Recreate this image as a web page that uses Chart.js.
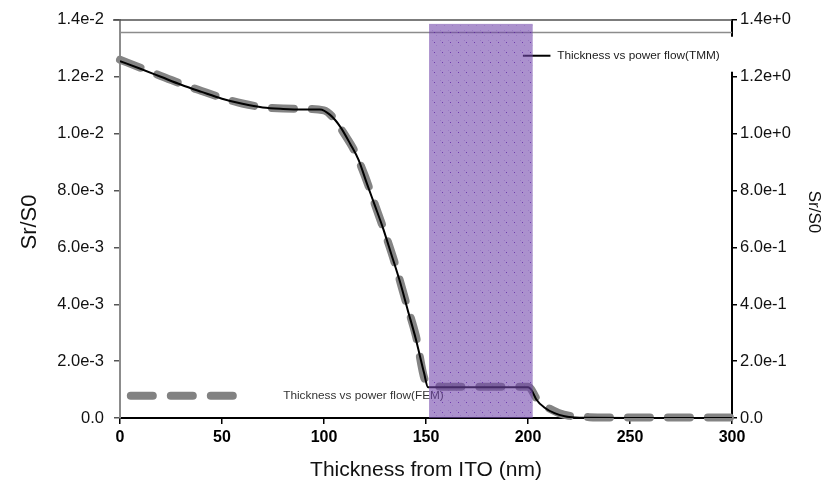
<!DOCTYPE html>
<html><head><meta charset="utf-8">
<script src="https://cdn.jsdelivr.net/npm/chart.js@4.4.1/dist/chart.umd.min.js"></script>
<style>html,body{margin:0;padding:0;background:#fff}canvas{display:block}</style>
</head><body>
<canvas id="c" width="832" height="485"></canvas>
<script>
// ---- data ----
const tmmThickness = [0,10,20,30,40,50,60,70,80,90,98,103,108,113,117,121,125,129,133,137,141,145,149,151,160,170,180,190,200,202,204,208,213,218,223,230,250,275,300];
const tmmPower     = [0.01255,0.01228,0.01200,0.01172,0.01147,0.01123,0.01105,0.01092,0.01087,0.01085,0.01085,0.01066,0.01024,0.00962,0.00907,0.00825,0.00746,0.00666,0.00576,0.00485,0.00381,0.00278,0.00160,0.00108,0.00108,0.00108,0.00108,0.00108,0.00108,0.00095,0.00066,0.00037,0.00017,0.00006,0.00002,0.00001,0,0,0];
const femThickness = [0,10,20,30,40,50,60,70,80,90,100,105,110,115,120,125,130,135,140,145,150,160,170,180,190,200,205,210,215,220,230,240,250,260,270,280,290,300];
const femPower     = [0.0126,0.01232,0.01203,0.01175,0.01150,0.01126,0.01106,0.01093,0.01088,0.01087,0.01082,0.01052,0.00998,0.00938,0.00852,0.00750,0.00648,0.00538,0.00412,0.00290,0.00128,0.00110,0.00110,0.00110,0.00110,0.00110,0.00060,0.00035,0.00018,0.00008,0.00003,0.00002,0.00002,0.00002,0.00002,0.00002,0.00002,0.00002];
const xTicks     = [0,50,100,150,200,250,300];
const leftTicks  = [0,0.002,0.004,0.006,0.008,0.010,0.012,0.014];
const rightTicks = [0,0.2,0.4,0.6,0.8,1.0,1.2,1.4];
const seriesNames = ['Thickness vs power flow(TMM)','Thickness vs power flow(FEM)'];
const xTitle = 'Thickness from ITO (nm)';
const yTitle = 'Sr/S0';
const bandRange = [151.5, 202.3];   // shaded layer (nm)
const bandTop = 0.01386;
const refLineValue = 0.01358;

const FONT = "'Liberation Sans', Arial, Helvetica, sans-serif";

function fmt(v){ return Math.abs(v) < 1e-12 ? '0.0' : Number(v).toExponential(1); }

// dotted purple pattern
function bandPattern(ctx){
  const p = document.createElement('canvas'); p.width = 8; p.height = 10;
  const g = p.getContext('2d');
  g.fillStyle = 'rgba(115,72,172,0.60)'; g.fillRect(0,0,8,10);
  g.fillStyle = 'rgba(100,50,165,0.25)'; g.fillRect(0,0,1,1); g.fillRect(4,5,1,1);
  g.fillStyle = 'rgba(90,30,160,0.75)'; g.fillRect(2,2,1,1);
  return ctx.createPattern(p,'repeat');
}

const overlay = {
  id: 'overlay',
  afterDraw(chart){
    const {ctx, chartArea:a, scales} = chart;
    const x = scales.x, y = scales.y;
    ctx.save();
    // top frame line
    ctx.strokeStyle = '#505050'; ctx.lineWidth = 1.5;
    ctx.beginPath(); ctx.moveTo(a.left-7, a.top); ctx.lineTo(a.right, a.top); ctx.stroke();
    // reference line
    const ry = Math.round(y.getPixelForValue(refLineValue)) + 0.5;
    ctx.strokeStyle = '#8c8c8c'; ctx.lineWidth = 1.5;
    ctx.beginPath(); ctx.moveTo(a.left, ry); ctx.lineTo(a.right, ry); ctx.stroke();

    // TMM legend (box clears part of right axis)
    const ly = y.getPixelForValue(0.01274);
    ctx.fillStyle = '#fff'; ctx.fillRect(a.right-2, ly-19, 4, 35);
    ctx.strokeStyle = '#000'; ctx.lineWidth = 2;
    ctx.beginPath(); ctx.moveTo(x.getPixelForValue(197.5), ly); ctx.lineTo(x.getPixelForValue(211), ly); ctx.stroke();
    ctx.font = '11.8px ' + FONT; ctx.fillStyle = '#1a1a1a'; ctx.textBaseline = 'middle'; ctx.textAlign = 'left';
    ctx.fillText(seriesNames[0], x.getPixelForValue(214.3), ly);

    // FEM legend
    const fy = y.getPixelForValue(0.00078);
    ctx.strokeStyle = '#828282'; ctx.lineWidth = 8; ctx.lineCap = 'round'; ctx.setLineDash([22,18]);
    ctx.beginPath(); ctx.moveTo(x.getPixelForValue(5.3), fy); ctx.lineTo(x.getPixelForValue(58), fy); ctx.stroke();
    ctx.setLineDash([]); ctx.lineCap = 'butt';
    ctx.fillStyle = '#333'; ctx.fillText(seriesNames[1], x.getPixelForValue(80), fy);

    // shaded band on top
    const bx0 = x.getPixelForValue(bandRange[0]), bx1 = x.getPixelForValue(bandRange[1]);
    const by0 = y.getPixelForValue(bandTop), by1 = y.getPixelForValue(0);
    ctx.fillStyle = bandPattern(ctx);
    ctx.fillRect(bx0, by0, bx1-bx0, by1-by0);

    // axis titles
    ctx.fillStyle = '#111'; ctx.textAlign = 'center'; ctx.textBaseline = 'middle';
    ctx.font = '21px ' + FONT;
    ctx.fillText(xTitle, (a.left+a.right)/2, 470);
    ctx.save(); ctx.translate(30, 222); ctx.rotate(-Math.PI/2);
    ctx.font = '22px ' + FONT; ctx.fillText(yTitle, 0, 0); ctx.restore();
    ctx.save(); ctx.translate(814, 212); ctx.rotate(Math.PI/2);
    ctx.font = '17px ' + FONT; ctx.fillText(yTitle, 0, 0); ctx.restore();
    ctx.restore();
  }
};

new Chart(document.getElementById('c'), {
  type: 'line',
  data: {
    datasets: [
      { label: seriesNames[0], data: tmmThickness.map((t,i)=>({x:t,y:tmmPower[i]})),
        borderColor: '#000', borderWidth: 2, pointRadius: 0, cubicInterpolationMode: 'monotone',
        yAxisID: 'y', order: 0 },
      { label: seriesNames[1], data: femThickness.map((t,i)=>({x:t,y:femPower[i]})),
        borderColor: '#848484', borderWidth: 8, borderDash: [22,18], borderCapStyle: 'round',
        pointRadius: 0, cubicInterpolationMode: 'monotone', yAxisID: 'y', order: 1, clip: false }
    ]
  },
  options: {
    responsive: false, animation: false,
    layout: { padding: { top: 18, left: 0, right: 0, bottom: 0 } },
    plugins: { legend: { display: false }, tooltip: { enabled: false } },
    scales: {
      x: {
        type: 'linear', position: 'bottom', min: 0, max: 300,
        afterBuildTicks: s => { s.ticks = xTicks.map(v => ({value: v})); },
        afterFit: s => { s.height = 67; },
        grid: { drawOnChartArea: false, drawTicks: true, tickLength: 6, color: '#000', lineWidth: 1.5 },
        border: { display: true, color: '#000', width: 2 },
        ticks: { color: '#000', padding: 4, maxRotation: 0, font: { family: FONT, size: 16, weight: 'bold' } }
      },
      y: {
        type: 'linear', position: 'left', min: 0, max: 0.014,
        afterBuildTicks: s => { s.ticks = leftTicks.map(v => ({value: v})); },
        afterFit: s => { s.width = 120; },
        grid: { drawOnChartArea: false, drawTicks: true, tickLength: 6, color: '#555', lineWidth: 1.5 },
        border: { display: true, color: '#8c8c8c', width: 2 },
        ticks: { color: '#111', padding: 10, callback: v => fmt(v), font: { family: FONT, size: 16.5 } }
      },
      y2: {
        type: 'linear', position: 'right', min: 0, max: 1.4,
        afterBuildTicks: s => { s.ticks = rightTicks.map(v => ({value: v})); },
        afterFit: s => { s.width = 100; },
        grid: { drawOnChartArea: false, drawTicks: true, tickLength: 5, color: '#000', lineWidth: 1.5 },
        border: { display: true, color: '#000', width: 2 },
        ticks: { color: '#111', padding: 3, callback: v => fmt(v), font: { family: FONT, size: 16.5 } }
      }
    }
  },
  plugins: [overlay]
});
</script>
</body></html>
